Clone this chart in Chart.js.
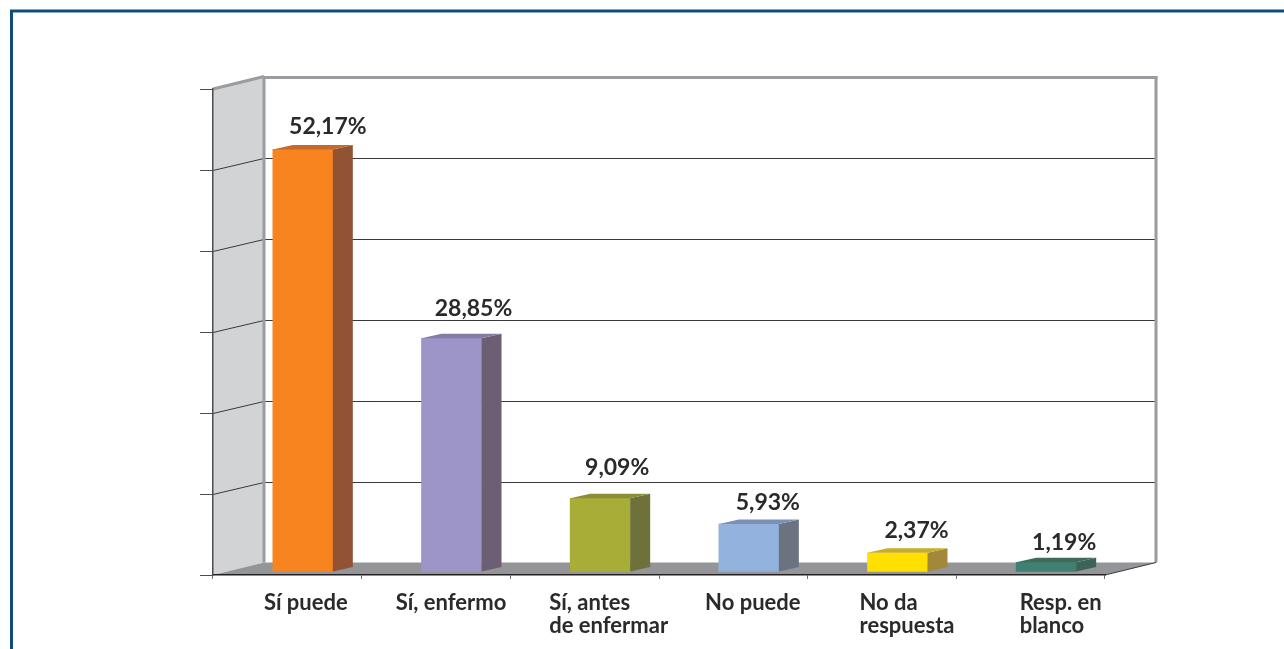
<!DOCTYPE html>
<html><head><meta charset="utf-8">
<style>html,body{margin:0;padding:0;background:#fff;overflow:hidden}canvas{display:block}#w{width:1284px;height:649px;position:relative}</style>
<script src="https://cdn.jsdelivr.net/npm/chart.js@4"></script></head>
<body><div id="w"><canvas id="c" width="1284" height="649"></canvas></div>
<script>
const categories = [["Sí puede"],["Sí, enfermo"],["Sí, antes","de enfermar"],["No puede"],["No da","respuesta"],["Resp. en","blanco"]];
const values = [52.17,28.85,9.09,5.93,2.37,1.19];
const valueLabels = ["52,17%","28,85%","9,09%","5,93%","2,37%","1,19%"];
const frontColors = ["#F7841E","#9D94C7","#A8AD37","#93B3DE","#FFE000","#3F8072"];
const sideColors = ["#925335","#6C5F74","#6F713A","#6B7280","#A3883A","#3D6358"];
const topColors = ["#C46A2F","#857BA3","#8B8E38","#7B90B5","#C9AD2A","#3F6B5E"];
const yTicks = [0,10,20,30,40,50,60];
// hand placement of the labels, as in the original artwork
const catNudgeX = [18.5,15,24,19.5,25,30];
const valNudgeX = [25,22,17,19,19,18];
const valNudgeY = [23,30,31,21,22,20];

const DX=51, DY=-12.5;    // depth of the box
const BX=15.5, BY=-3;     // bar position inside the box
const SX=20, SY=-4.5;     // depth of a bar
const FONT='"Lato"';

function poly(ctx,pts,fill){ctx.beginPath();pts.forEach((p,i)=>i?ctx.lineTo(p[0],p[1]):ctx.moveTo(p[0],p[1]));ctx.closePath();ctx.fillStyle=fill;ctx.fill();}
function line(ctx,a,b,col,w){ctx.beginPath();ctx.moveTo(a[0],a[1]);ctx.lineTo(b[0],b[1]);ctx.strokeStyle=col;ctx.lineWidth=w;ctx.stroke();}

const box3d={id:'box3d',
 beforeDraw(ch){
  const c=ch.ctx,y=ch.scales.y,x=ch.scales.x;
  const L=x.left,R=x.right,T=y.getPixelForValue(60),B=y.getPixelForValue(0);
  c.save();
  c.fillStyle='#fff';c.fillRect(0,0,1284,649);
  c.strokeStyle='#0F4C7D';c.lineWidth=3;c.beginPath();c.moveTo(11.5,649);c.lineTo(11.5,11);c.lineTo(1284,11);c.stroke();
  // left wall + floor
  poly(c,[[L,T],[L+DX,T+DY],[L+DX,B+DY],[L,B]],'#D1D3D4');
  poly(c,[[L,B],[R,B],[R+DX,B+DY],[L+DX,B+DY]],'#939598');
  // grid lines on wall and back
  yTicks.forEach(v=>{ if(v===0||v===60) return;
    const p=Math.round(y.getPixelForValue(v))+.5, q=Math.round(p+DY)+.5;
    line(c,[L,p],[L+DX,q],'#3A3A3C',1);
    line(c,[L+DX,q],[R+DX,q],'#3A3A3C',1);
  });
  // grey box edges
  const g='#9A9C9F';
  line(c,[L,T],[L+DX,T+DY],g,3);
  line(c,[L+DX-1.5,T+DY+1],[R+DX+1.5,T+DY+1],g,3);
  line(c,[L+DX,T+DY],[L+DX,B+DY],g,3);
  line(c,[R+DX,T+DY],[R+DX,B+DY],g,3);
  line(c,[R,B],[R+DX,B+DY],'#3A3A3C',1);
  c.restore();
 },
 beforeDatasetDraw(ch){ch.ctx.save();ch.ctx.translate(BX,BY);},
 afterDatasetDraw(ch,args){
  const c=ch.ctx;
  args.meta.data.forEach((b,i)=>{
   const l=b.x-b.width/2,r=b.x+b.width/2,t=b.y,bt=b.base;
   poly(c,[[r,t],[r+SX,t+SY],[r+SX,bt+SY],[r,bt]],sideColors[i]);
   poly(c,[[l,t],[l+SX,t+SY],[r+SX,t+SY],[r,t]],topColors[i]);
  });
  c.restore();
 },
 afterDatasetsDraw(ch){
  const c=ch.ctx,x=ch.scales.x,y=ch.scales.y;
  c.save();
  c.fillStyle='#2B2A29';
  c.textBaseline='middle';
  c.font='bold 22px '+FONT;
  categories.forEach((lines,i)=>{
   const w=Math.max(...lines.map(s=>c.measureText(s).width));
   const left=x.getPixelForTick(i)+catNudgeX[i]-w/2;
   c.textAlign='left';
   lines.forEach((s,k)=>c.fillText(s,left,602.5+k*23.5));
  });
  c.font='bold 23px '+FONT;
  c.textAlign='center';
  values.forEach((v,i)=>{
   const px=x.getPixelForTick(i)+BX+valNudgeX[i], py=y.getPixelForValue(v)+BY-valNudgeY[i];
   c.fillText(valueLabels[i],px,py);
  });
  c.restore();
 }
};

new Chart(document.getElementById('c'),{
 type:'bar',
 data:{labels:categories,datasets:[{data:values,backgroundColor:frontColors,borderWidth:0,barThickness:60}]},
 options:{
  responsive:false,animation:false,
  layout:{padding:{left:213,right:179,top:89,bottom:74}},
  plugins:{legend:{display:false},title:{display:false},tooltip:{enabled:false}},
  scales:{
   x:{offset:true,
      grid:{display:true,drawOnChartArea:false,drawTicks:true,tickLength:4,color:'#6D6E71',offset:true},
      border:{display:true,color:'#231F20',width:1.5},
      ticks:{display:false},
      afterFit(s){s.height=0;}},
   y:{min:0,max:60,
      afterBuildTicks(s){s.ticks=yTicks.map(v=>({value:v}));},
      grid:{display:true,drawOnChartArea:false,drawTicks:true,tickLength:13,color:'#4D4D4F'},
      border:{display:true,color:'#4D4D4F',width:1.5},
      ticks:{display:false},
      afterFit(s){s.width=0;}}
  }
 },
 plugins:[box3d]
});
</script></body></html>
